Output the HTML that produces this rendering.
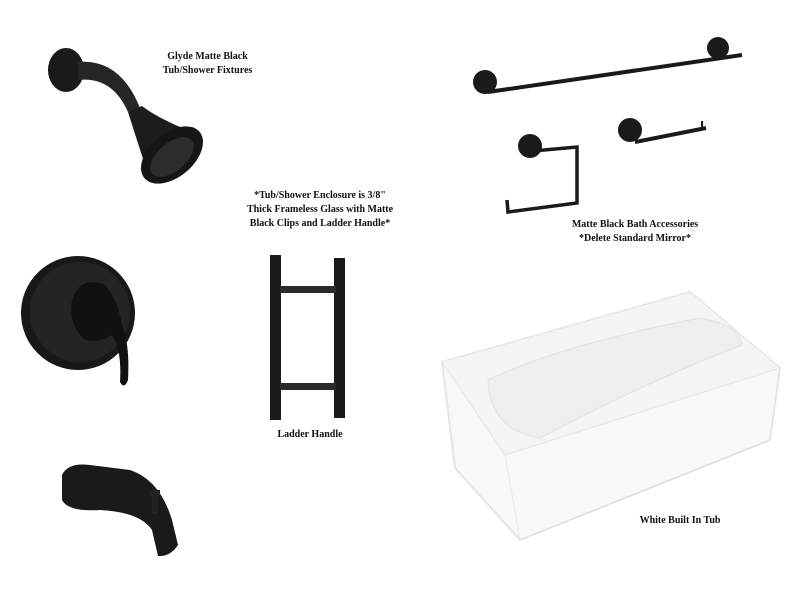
<!DOCTYPE html>
<html><head><style>
body{margin:0;background:#fff;width:800px;height:600px;overflow:hidden;position:relative;font-family:"Liberation Serif",serif;}
.t{position:absolute;font-weight:bold;font-size:10px;text-align:center;color:#111;line-height:14px;}
</style></head><body>
<svg width="800" height="600" style="position:absolute;left:0;top:0">
<!-- shower head -->
<ellipse cx="66" cy="70" rx="18" ry="22" fill="#1a1a1a"/>
<path d="M78 62 Q120 58 140 108 L128 112 Q112 76 78 80Z" fill="#262626"/>
<path d="M128 112 L142 106 Q160 120 200 135 L150 180 Q140 150 128 112Z" fill="#1c1c1c"/>
<ellipse cx="172" cy="155" rx="36" ry="22" transform="rotate(-40 172 155)" fill="#161616"/>
<ellipse cx="172" cy="157" rx="26" ry="14" transform="rotate(-40 172 157)" fill="#2c2c2c"/>
<!-- valve -->
<circle cx="78" cy="313" r="57" fill="#181818"/>
<circle cx="80" cy="312" r="50" fill="#242424"/>
<path d="M72 300 Q80 275 105 285 Q118 300 122 325 Q130 345 128 380 Q124 390 120 382 Q122 350 112 335 Q100 343 85 340 Q68 325 72 300Z" fill="#111"/>
<!-- spout -->
<path d="M62 475 Q68 462 90 465 L130 470 Q160 480 172 520 L178 545 Q170 557 158 556 L152 530 Q140 512 100 510 Q68 512 62 500Z" fill="#1a1a1a"/>
<rect x="152" y="496" width="6" height="18" fill="#222"/>
<rect x="150" y="490" width="10" height="7" fill="#222"/>
<!-- towel bar -->
<line x1="488" y1="92" x2="742" y2="55" stroke="#1a1a1a" stroke-width="4"/>
<circle cx="485" cy="82" r="12" fill="#1a1a1a"/>
<circle cx="718" cy="48" r="11" fill="#1a1a1a"/>
<!-- towel ring -->
<circle cx="530" cy="146" r="12" fill="#1a1a1a"/>
<path d="M533 151 L577 147 L577 203 L508 212 L507 200" fill="none" stroke="#1a1a1a" stroke-width="3.5"/>
<!-- hand towel -->
<circle cx="630" cy="130" r="12" fill="#1a1a1a"/>
<line x1="635" y1="142" x2="706" y2="128" stroke="#1a1a1a" stroke-width="4"/>
<line x1="702" y1="128" x2="702" y2="121" stroke="#1a1a1a" stroke-width="2"/>
<!-- ladder -->
<rect x="270" y="255" width="11" height="165" fill="#1a1a1a"/>
<rect x="334" y="258" width="11" height="160" fill="#1a1a1a"/>
<rect x="280" y="286" width="56" height="7" fill="#2a2a2a"/>
<rect x="280" y="383" width="56" height="7" fill="#2a2a2a"/>
<!-- tub -->
<polygon points="442,362 690,292 780,368 770,440 520,540 455,468" fill="#f8f8f8" stroke="#e4e4e4" stroke-width="2"/>
<polygon points="442,362 690,292 780,368 505,455" fill="#f4f4f4" stroke="#e6e6e6"/>
<path d="M488 380 Q560 345 700 318 Q740 325 742 345 Q650 380 540 438 Q490 430 488 380Z" fill="#efefef" stroke="#e2e2e2"/>
<line x1="505" y1="455" x2="520" y2="540" stroke="#e8e8e8"/>
</svg>
<div class="t" style="left:150px;top:50px;width:115px">Glyde Matte Black<br>Tub/Shower Fixtures</div>
<div class="t" style="left:230px;top:189px;width:180px">*Tub/Shower Enclosure is 3/8"<br>Thick Frameless Glass with Matte<br>Black Clips and Ladder Handle*</div>
<div class="t" style="left:260px;top:428px;width:100px">Ladder Handle</div>
<div class="t" style="left:555px;top:218px;width:160px">Matte Black Bath Accessories<br>*Delete Standard Mirror*</div>
<div class="t" style="left:625px;top:514px;width:110px">White Built In Tub</div>
</body></html>
